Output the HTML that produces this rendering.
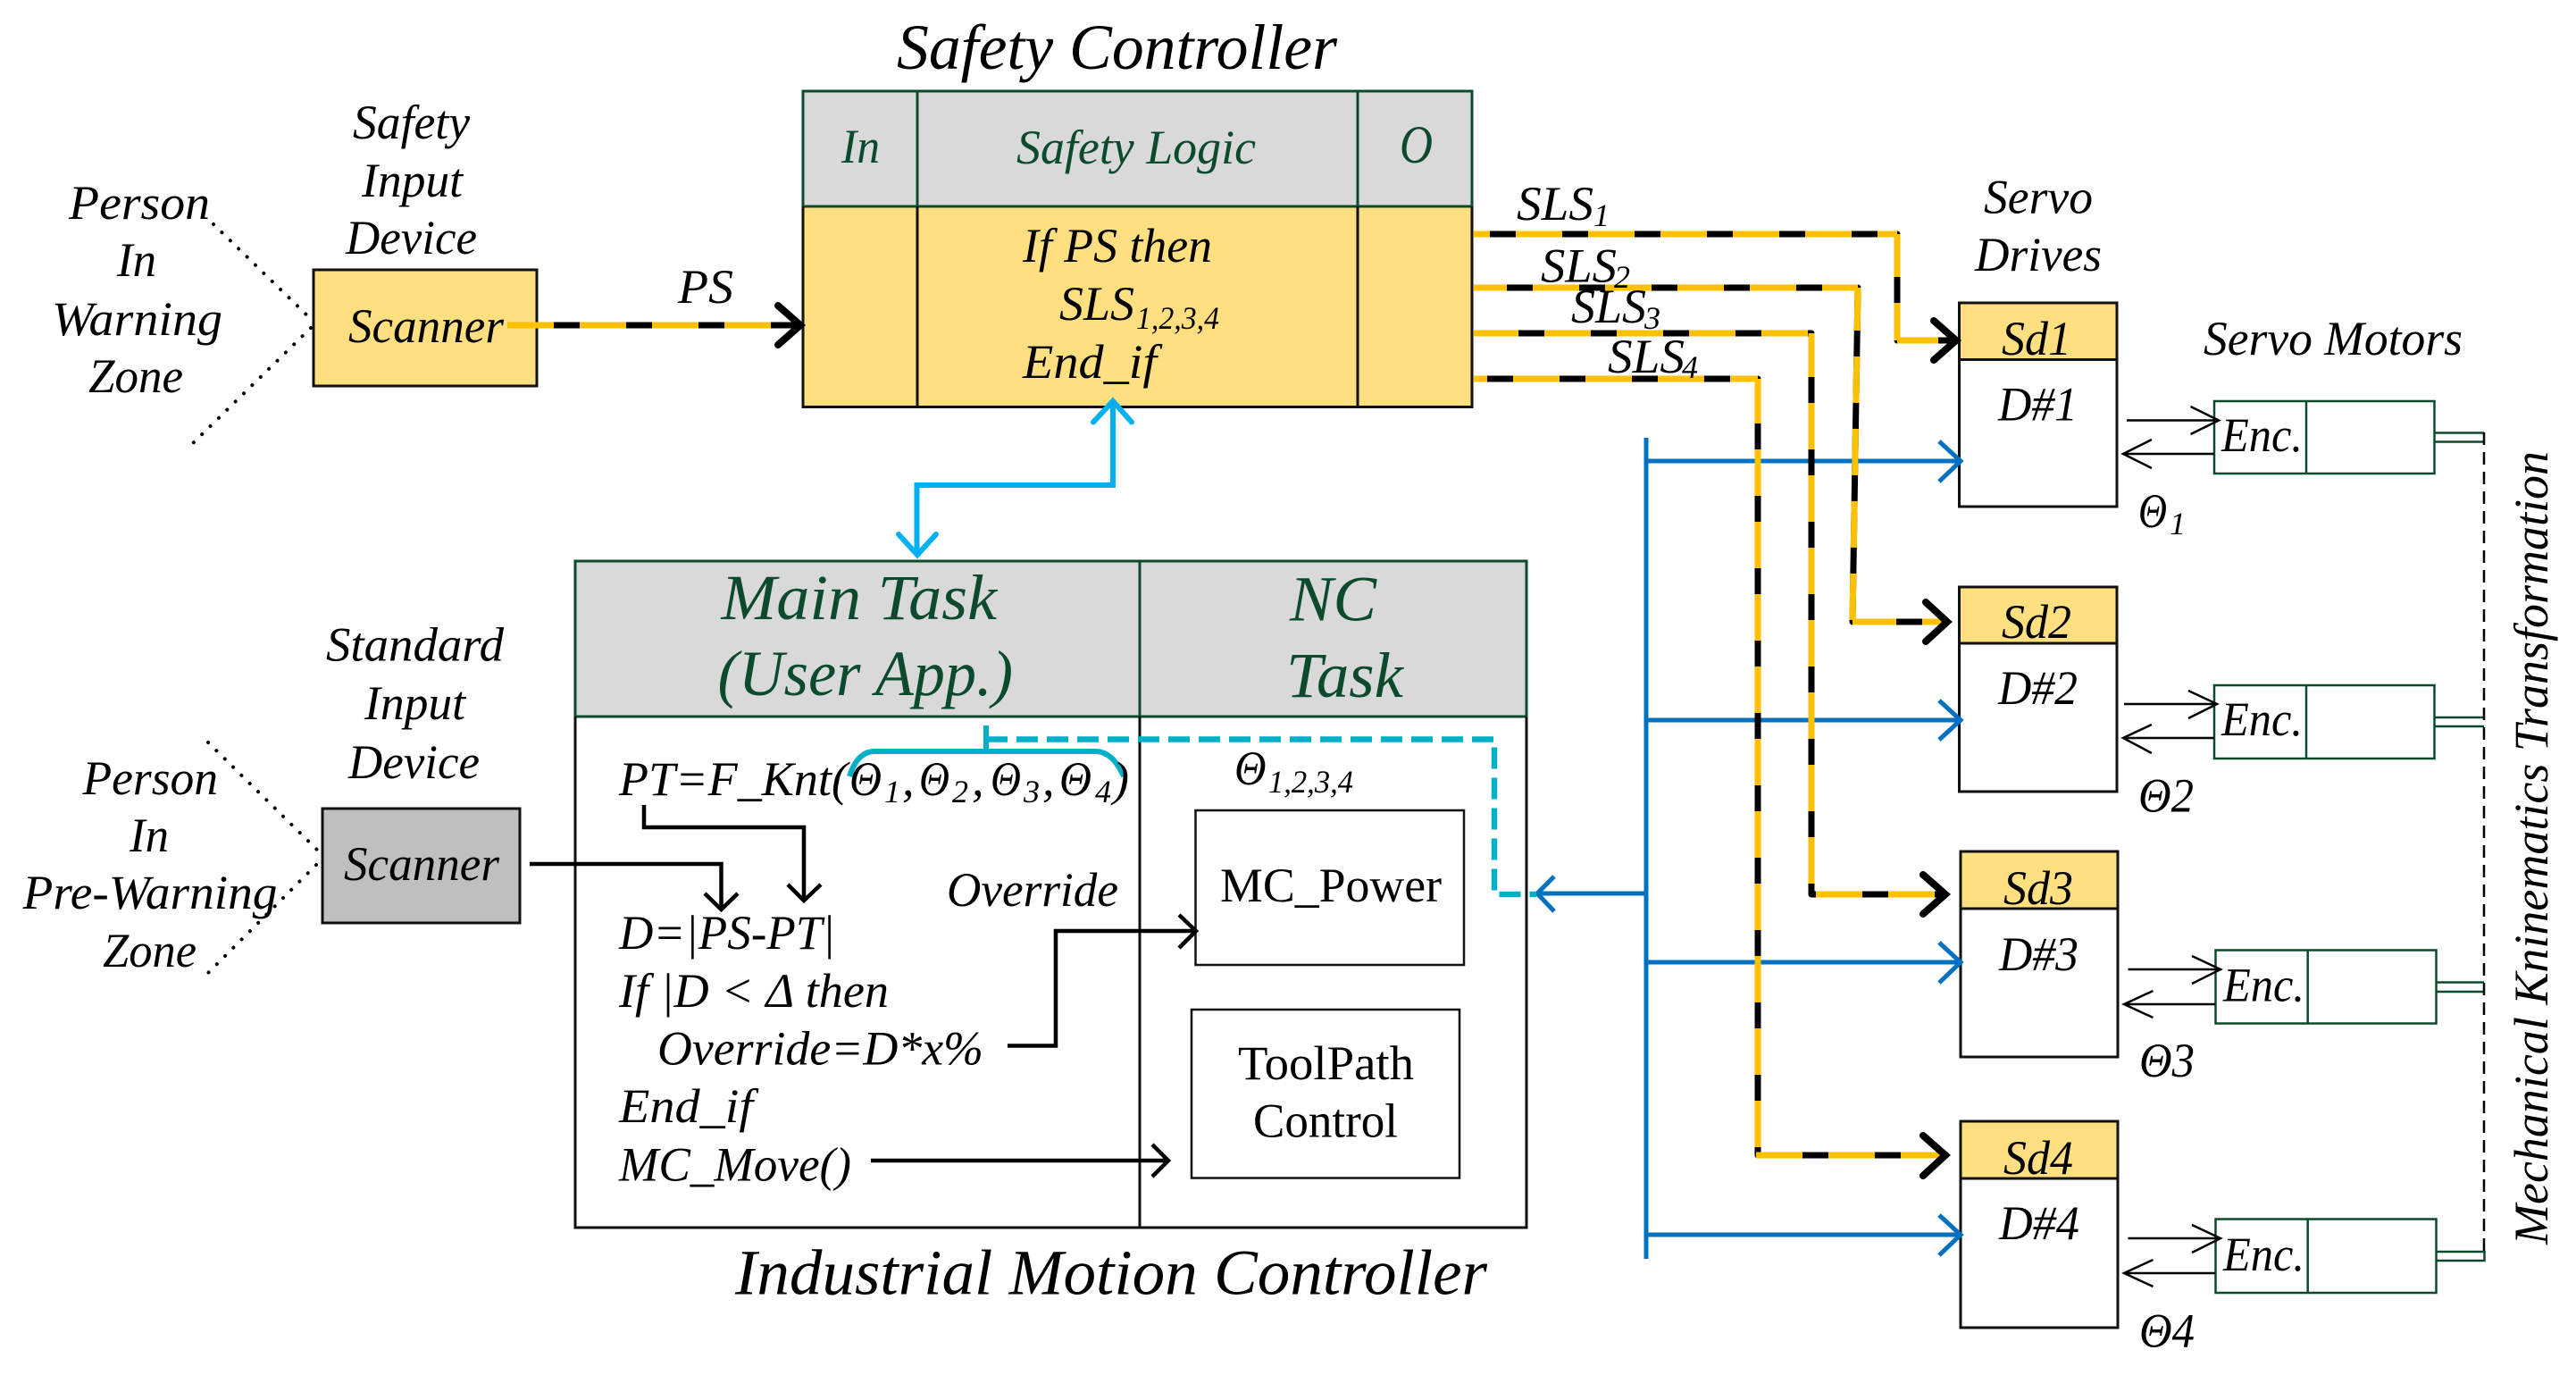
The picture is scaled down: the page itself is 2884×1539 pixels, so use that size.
<!DOCTYPE html>
<html><head><meta charset="utf-8"><style>
html,body{margin:0;padding:0;background:#fff}
svg{display:block}
text{font-family:"Liberation Serif",serif;font-style:italic;font-size:54px;fill:#000}
.g{fill:#0b4a2c}
.u{font-style:normal}
.s{font-size:36px}
.t{font-size:72px}
.n{fill:none}
</style></head><body>
<svg xmlns="http://www.w3.org/2000/svg" width="2884" height="1539" viewBox="0 0 2884 1539">
<rect width="2884" height="1539" fill="#fff"/>

<!-- Scanner 1 -->
<rect x="351" y="302" width="250" height="130" fill="#ffdf80" stroke="#111" stroke-width="3"/>
<path d="M239 251L351 360M348 367L214 498" fill="none" stroke="#000" stroke-width="4" stroke-linecap="round" stroke-dasharray="0.1 13"/>
<!-- Scanner 2 -->
<rect x="361" y="905" width="221" height="128" fill="#bfbfbf" stroke="#111" stroke-width="3"/>
<path d="M233 831L362 958M354 968L228 1094" fill="none" stroke="#000" stroke-width="4" stroke-linecap="round" stroke-dasharray="0.1 13"/>

<!-- Safety Controller -->
<rect x="899" y="102" width="749" height="129" fill="#d9d9d9"/>
<rect x="899" y="231" width="749" height="224" fill="#ffdf80"/>
<path d="M899 231V102H1648V231M1027 102V231M1520 102V231M899 231H1648" fill="none" stroke="#0b4a2c" stroke-width="3"/>
<path d="M899 231V455.500H1648V231M1027 231V455.500M1520 231V455.500" fill="none" stroke="#111" stroke-width="3"/>

<!-- Motion Controller -->
<rect x="644" y="628" width="1065" height="174" fill="#d9d9d9"/>
<path d="M644 802V628H1709V802M1276 628V802M644 802H1709" fill="none" stroke="#0b4a2c" stroke-width="3"/>
<path d="M644 802V1374H1709V802M1276 802V1374" fill="none" stroke="#111" stroke-width="3"/>
<rect x="1338.500" y="907" width="300.500" height="173" fill="#fff" stroke="#111" stroke-width="2.500"/>
<rect x="1334" y="1130" width="300" height="188.500" fill="#fff" stroke="#111" stroke-width="2.500"/>

<!-- Drives -->
<g stroke="#111" stroke-width="3">
<rect x="2193.500" y="339" width="176.500" height="228" fill="#fff"/><rect x="2193.500" y="339" width="176.500" height="63.500" fill="#ffdf80"/>
<rect x="2193.500" y="657" width="176.500" height="229" fill="#fff"/><rect x="2193.500" y="657" width="176.500" height="63" fill="#ffdf80"/>
<rect x="2195" y="953" width="176" height="230" fill="#fff"/><rect x="2195" y="953" width="176" height="64" fill="#ffdf80"/>
<rect x="2195" y="1255" width="176" height="231" fill="#fff"/><rect x="2195" y="1255" width="176" height="64" fill="#ffdf80"/>
</g>

<!-- Motors -->
<g fill="#fff" stroke="#0b4a2c" stroke-width="2.500">
<rect x="2479" y="449" width="246.500" height="81"/><path d="M2582 449V530"/>
<rect x="2479" y="767" width="246.500" height="82"/><path d="M2582 767V849"/>
<rect x="2480.500" y="1063.500" width="247" height="82"/><path d="M2583.700 1063.500V1145.500"/>
<rect x="2480.500" y="1364.500" width="247" height="82.500"/><path d="M2583.700 1364.500V1447"/>
<path d="M2725.500 484.500H2781M2725.500 494.500H2781M2725.500 803H2781M2725.500 813H2781M2727.500 1099.500H2781M2727.500 1110H2781M2727.500 1401H2781.500V1411H2727.500" fill="none"/>
</g>
<path d="M2781 484V1401" fill="none" stroke="#000" stroke-width="2.500" stroke-dasharray="14 8"/>

<!-- Blue bus -->
<g fill="none" stroke="#0070c0" stroke-width="5">
<path d="M1843 490V1409"/>
<path d="M1843 516H2193M2171 494L2195 516L2171 539"/>
<path d="M1843 806H2193M2171 784L2195 806L2171 828"/>
<path d="M1843 1077H2193M2171 1055L2195 1077L2171 1100"/>
<path d="M1843 1382H2193M2171 1360L2195 1382L2171 1405"/>
<path d="M1843 1000H1722M1740 981L1721 1000L1740 1020"/>
</g>

<!-- Safety yellow/black lines -->
<g fill="none" stroke-width="7" stroke-linejoin="round">
<g stroke="#000">
<path d="M568 364H890"/>
<path d="M1650 262H2124V381H2186"/>
<path d="M1650 322H2080L2074 696H2176"/>
<path d="M1650 373H2028V1001H2174"/>
<path d="M1650 424H1968V1293H2174"/>
</g>
<g stroke="#ffc000" stroke-dasharray="52 29">
<path d="M568 364H890"/>
<path d="M1650 262H2124" stroke-dashoffset="34"/>
<path d="M2124 262V381" stroke-dashoffset="4"/>
<path d="M2124 381H2170"/>
<path d="M1650 322H2080" stroke-dashoffset="15"/>
<path d="M2080 322L2074 696" stroke-dashoffset="4"/>
<path d="M2074 696H2176" stroke-dashoffset="3"/>
<path d="M1650 373H2028" stroke-dashoffset="2"/>
<path d="M2028 373V1001" stroke-dashoffset="3"/>
<path d="M2033 1001H2172"/>
<path d="M1650 424H1968" stroke-dashoffset="37"/>
<path d="M1968 424V1293" stroke-dashoffset="2"/>
<path d="M1966 1293H2176"/>
</g>
<g stroke="#000" stroke-width="8" stroke-linecap="round" stroke-linejoin="miter">
<path d="M871 342L896 364L871 386"/>
<path d="M2165 359L2190 381L2165 403"/>
<path d="M2156 674L2180 696L2156 718"/>
<path d="M2153 979L2178 1001L2153 1023"/>
<path d="M2153 1271L2178 1293L2153 1316"/>
</g>
</g>

<!-- Cyan -->
<path d="M1246 451V543H1026.500V619M1224 472.500L1246 449L1267 472.500M1006 598L1027 621L1048 598" fill="none" stroke="#00b0f0" stroke-width="6" stroke-linecap="round"/>
<path d="M951 869Q960 841 979 841H1226Q1246 841 1258 869M1104 812V841" fill="none" stroke="#00b0c8" stroke-width="6"/>
<path d="M1104 827.500H1673V1001H1720" fill="none" stroke="#00b0c8" stroke-width="6.500" stroke-dasharray="24 10"/>

<!-- Black arrows -->
<g fill="none" stroke="#000" stroke-width="4.500">
<path d="M721 901V926H900V1006M882 990L900 1008L919 990"/>
<path d="M593 967H807.500V1016M789 1000L807.500 1018L826 1000"/>
<path d="M1128 1170.500H1182V1042H1337M1320 1024L1339 1042L1320 1061"/>
<path d="M975 1299H1306M1290 1281L1308 1299L1290 1317"/>
</g>
<g fill="none" stroke="#000" stroke-width="2.500">
<path d="M2381 470.500H2484M2452.500 455L2484 470.500L2452.500 486"/>
<path d="M2479 508H2377M2409 492L2377 508L2409 524"/>
<path d="M2378 788H2482M2450 773L2482 788L2450 804"/>
<path d="M2479 826H2377M2409 811L2377 826L2409 843"/>
<path d="M2382.500 1085H2486M2454 1070L2486 1085L2454 1101"/>
<path d="M2480 1124H2378M2410.500 1109L2378 1124L2410.500 1139"/>
<path d="M2382.500 1386H2486M2454 1371L2486 1386L2454 1402"/>
<path d="M2480 1425H2378M2410.500 1410L2378 1425L2410.500 1440"/>
</g>

<!-- Text left top -->
<text x="395" y="155" textLength="131" lengthAdjust="spacingAndGlyphs">Safety</text>
<text x="405" y="220" textLength="113" lengthAdjust="spacingAndGlyphs">Input</text>
<text x="387" y="284" textLength="147" lengthAdjust="spacingAndGlyphs">Device</text>
<text x="77" y="245" textLength="158" lengthAdjust="spacingAndGlyphs">Person</text>
<text x="131" y="309" textLength="44" lengthAdjust="spacingAndGlyphs">In</text>
<text x="58" y="375" textLength="191" lengthAdjust="spacingAndGlyphs">Warning</text>
<text x="99" y="439" textLength="106" lengthAdjust="spacingAndGlyphs">Zone</text>
<text x="390" y="383" textLength="174" lengthAdjust="spacingAndGlyphs">Scanner</text>
<text x="759" y="339" textLength="62" lengthAdjust="spacingAndGlyphs">PS</text>

<!-- Text left bottom -->
<text x="365" y="739.500" textLength="199" lengthAdjust="spacingAndGlyphs">Standard</text>
<text x="408" y="805" textLength="113" lengthAdjust="spacingAndGlyphs">Input</text>
<text x="390" y="871" textLength="147" lengthAdjust="spacingAndGlyphs">Device</text>
<text x="92.500" y="889" textLength="151.500" lengthAdjust="spacingAndGlyphs">Person</text>
<text x="145" y="953" textLength="44" lengthAdjust="spacingAndGlyphs">In</text>
<text x="25.500" y="1017" textLength="285" lengthAdjust="spacingAndGlyphs">Pre-Warning</text>
<text x="115" y="1082" textLength="105" lengthAdjust="spacingAndGlyphs">Zone</text>
<text x="385" y="985" textLength="174" lengthAdjust="spacingAndGlyphs">Scanner</text>

<!-- Safety controller text -->
<text class="t" x="1004" y="77" textLength="493" lengthAdjust="spacingAndGlyphs">Safety Controller</text>
<text class="g" x="942" y="182" textLength="43" lengthAdjust="spacingAndGlyphs">In</text>
<text class="g" x="1138" y="183" textLength="268" lengthAdjust="spacingAndGlyphs">Safety Logic</text>
<text class="g" x="1567" y="182" textLength="37" lengthAdjust="spacingAndGlyphs" font-size="60" style="font-size:60px">O</text>
<text x="1145" y="293" textLength="212" lengthAdjust="spacingAndGlyphs">If PS then</text>
<text x="1186" y="358" textLength="84" lengthAdjust="spacingAndGlyphs">SLS</text>
<text class="s" x="1272" y="368" textLength="93" lengthAdjust="spacingAndGlyphs">1,2,3,4</text>
<text x="1145" y="423" textLength="150" lengthAdjust="spacingAndGlyphs">End_if</text>
<text x="1698" y="246" textLength="86" lengthAdjust="spacingAndGlyphs">SLS</text>
<text class="s" x="1784" y="253">1</text>
<text x="1725" y="315.500" textLength="85" lengthAdjust="spacingAndGlyphs">SLS</text>
<text class="s" x="1807" y="322">2</text>
<text x="1759" y="361" textLength="84" lengthAdjust="spacingAndGlyphs">SLS</text>
<text class="s" x="1841" y="368">3</text>
<text x="1800" y="417" textLength="86" lengthAdjust="spacingAndGlyphs">SLS</text>
<text class="s" x="1883" y="423">4</text>

<!-- Motion controller text -->
<text class="t g" x="807.500" y="693" textLength="308.500" lengthAdjust="spacingAndGlyphs">Main Task</text>
<text class="t g" x="803.500" y="778" textLength="330.500" lengthAdjust="spacingAndGlyphs">(User App.)</text>
<text class="t g" x="1444" y="694.500" textLength="97" lengthAdjust="spacingAndGlyphs">NC</text>
<text class="t g" x="1440" y="780" textLength="131" lengthAdjust="spacingAndGlyphs">Task</text>
<text x="693" y="890" textLength="256" lengthAdjust="spacingAndGlyphs">PT=F_Knt(</text>
<text x="951" y="890" textLength="36" lengthAdjust="spacingAndGlyphs">Θ</text><text class="s" x="990" y="898">1</text><text x="1010" y="890">,</text>
<text x="1029" y="890" textLength="34" lengthAdjust="spacingAndGlyphs">Θ</text><text class="s" x="1066" y="898">2</text><text x="1088" y="890">,</text>
<text x="1109" y="890" textLength="34" lengthAdjust="spacingAndGlyphs">Θ</text><text class="s" x="1146" y="898">3</text><text x="1167" y="890">,</text>
<text x="1186" y="890" textLength="36" lengthAdjust="spacingAndGlyphs">Θ</text><text class="s" x="1226" y="898">4</text><text x="1246" y="890">)</text>
<text x="1382" y="878" textLength="35.500" lengthAdjust="spacingAndGlyphs">Θ</text>
<text class="s" x="1420" y="887" textLength="95" lengthAdjust="spacingAndGlyphs">1,2,3,4</text>
<text x="1060" y="1014" textLength="192" lengthAdjust="spacingAndGlyphs">Override</text>
<text x="693" y="1062" textLength="242" lengthAdjust="spacingAndGlyphs">D=|PS-PT|</text>
<text x="693" y="1127" textLength="302" lengthAdjust="spacingAndGlyphs">If |D &lt; Δ then</text>
<text x="736" y="1191.500" textLength="365" lengthAdjust="spacingAndGlyphs">Override=D*x%</text>
<text x="693" y="1256" textLength="150" lengthAdjust="spacingAndGlyphs">End_if</text>
<text x="693" y="1321.500" textLength="260" lengthAdjust="spacingAndGlyphs">MC_Move()</text>
<text class="u" x="1366" y="1009" textLength="248" lengthAdjust="spacingAndGlyphs">MC_Power</text>
<text class="u" x="1386" y="1208" textLength="197" lengthAdjust="spacingAndGlyphs">ToolPath</text>
<text class="u" x="1403" y="1272.500" textLength="162" lengthAdjust="spacingAndGlyphs">Control</text>
<text class="t" x="823" y="1448.500" textLength="842" lengthAdjust="spacingAndGlyphs">Industrial Motion Controller</text>

<!-- Drives text -->
<text x="2221" y="238.500" textLength="122" lengthAdjust="spacingAndGlyphs">Servo</text>
<text x="2211" y="303" textLength="142" lengthAdjust="spacingAndGlyphs">Drives</text>
<text x="2241" y="397" textLength="78" lengthAdjust="spacingAndGlyphs">Sd1</text>
<text x="2241" y="714" textLength="78" lengthAdjust="spacingAndGlyphs">Sd2</text>
<text x="2243" y="1012" textLength="78" lengthAdjust="spacingAndGlyphs">Sd3</text>
<text x="2243" y="1314" textLength="78" lengthAdjust="spacingAndGlyphs">Sd4</text>
<text x="2237" y="470.500" textLength="89" lengthAdjust="spacingAndGlyphs">D#1</text>
<text x="2237" y="788" textLength="89" lengthAdjust="spacingAndGlyphs">D#2</text>
<text x="2238" y="1086" textLength="89" lengthAdjust="spacingAndGlyphs">D#3</text>
<text x="2238" y="1387" textLength="90" lengthAdjust="spacingAndGlyphs">D#4</text>
<text x="2467" y="397" textLength="290" lengthAdjust="spacingAndGlyphs">Servo Motors</text>
<text x="2487" y="505" textLength="91" lengthAdjust="spacingAndGlyphs">Enc.</text>
<text x="2487" y="823" textLength="91" lengthAdjust="spacingAndGlyphs">Enc.</text>
<text x="2489" y="1120.500" textLength="91" lengthAdjust="spacingAndGlyphs">Enc.</text>
<text x="2489" y="1422" textLength="91" lengthAdjust="spacingAndGlyphs">Enc.</text>
<text x="2394" y="590" textLength="32" lengthAdjust="spacingAndGlyphs">Θ</text><text class="s" x="2429" y="598">1</text>
<text x="2394" y="908.500" textLength="62" lengthAdjust="spacingAndGlyphs">Θ2</text>
<text x="2395" y="1205" textLength="62" lengthAdjust="spacingAndGlyphs">Θ3</text>
<text x="2395" y="1507.500" textLength="62" lengthAdjust="spacingAndGlyphs">Θ4</text>
<text transform="translate(2852 1393) rotate(-90)" x="0" y="0" textLength="888" lengthAdjust="spacingAndGlyphs">Mechanical Kninematics Transformation</text>
</svg>
</body></html>
